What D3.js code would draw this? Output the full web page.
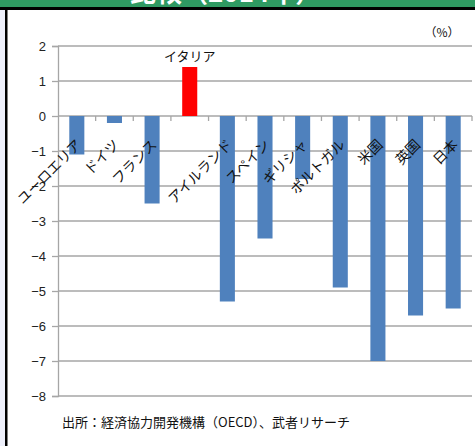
<!DOCTYPE html>
<html lang="ja">
<head>
<meta charset="UTF-8">
<title>比較</title>
<script src="https://d3js.org/d3.v7.min.js"></script>
<style>
  html, body { margin: 0; padding: 0; background: #fff; overflow: hidden; }
  svg { display: block; }
  text { font-family: "Noto Sans CJK JP", "Noto Sans", sans-serif; }
</style>
</head>
<body>
<svg width="475" height="446"></svg>
<script>
const countries = ["ユーロエリア", "ドイツ", "フランス", "イタリア", "アイルランド", "スペイン",
                   "ギリシャ", "ポルトガル", "米国", "英国", "日本"];
const values = [-1.1, -0.2, -2.5, 1.4, -5.3, -3.5, -1.8, -4.9, -7.0, -5.7, -5.5];
const yTicks = [2, 1, 0, -1, -2, -3, -4, -5, -6, -7, -8];
const highlight = "イタリア";

const svg = d3.select("svg");
const W = 475, H = 446;
const plotL = 58, plotR = 472, plotT = 46, plotB = 396;

svg.append("rect").attr("width", W).attr("height", H).attr("fill", "#fff");

// frame from the page the chart was cut out of (title mostly cut off)
svg.append("rect").attr("x", 0).attr("y", 0).attr("width", W).attr("height", 8).attr("fill", "#2f9a62");
svg.append("text").attr("x", 130).attr("y", 2)
  .attr("fill", "#fff").attr("font-size", 26).attr("font-weight", "bold")
  .text("比較（2014年）");
svg.append("rect").attr("x", 0).attr("y", 7).attr("width", W).attr("height", 3).attr("fill", "#000");
svg.append("rect").attr("x", 0).attr("y", 10).attr("width", 5).attr("height", H).attr("fill", "#eef0fb");
svg.append("rect").attr("x", 5).attr("y", 7).attr("width", 2.5).attr("height", H).attr("fill", "#000");

const x = d3.scaleBand().domain(countries).range([plotL, plotR]).paddingInner(0.6).paddingOuter(0.3);
const y = d3.scaleLinear().domain([-8, 2]).range([plotB, plotT]);

// gridlines
svg.append("g")
  .selectAll("line")
  .data(yTicks)
  .join("line")
  .attr("x1", plotL).attr("x2", plotR)
  .attr("y1", d => y(d)).attr("y2", d => y(d))
  .attr("stroke", "#a6a6a6").attr("stroke-width", 1.3);

// y axis
const yAxis = svg.append("g")
  .attr("transform", `translate(${plotL},0)`)
  .call(d3.axisLeft(y).tickValues(yTicks).tickSize(6).tickPadding(6).tickFormat(d3.format("d")));
yAxis.select(".domain").attr("stroke", "#a6a6a6").attr("stroke-width", 1.3);
yAxis.selectAll(".tick line").attr("stroke", "#a6a6a6").attr("stroke-width", 1.3);
yAxis.selectAll(".tick text")
  .attr("font-size", 13).attr("fill", "#222")
  .style("font-family", "Arial, 'Liberation Sans', sans-serif");

// category ticks on the zero line
svg.append("g")
  .selectAll("line")
  .data(d3.range(1, countries.length + 1))
  .join("line")
  .attr("x1", i => plotL + i * (plotR - plotL) / countries.length)
  .attr("x2", i => plotL + i * (plotR - plotL) / countries.length)
  .attr("y1", y(0)).attr("y2", y(0) + 5)
  .attr("stroke", "#a6a6a6").attr("stroke-width", 1.3);

// bars
svg.append("g")
  .selectAll("rect")
  .data(countries)
  .join("rect")
  .attr("x", d => x(d))
  .attr("width", x.bandwidth())
  .attr("y", (d, i) => y(Math.max(0, values[i])))
  .attr("height", (d, i) => Math.abs(y(values[i]) - y(0)))
  .attr("fill", d => d === highlight ? "#ff0000" : "#4f81bd");

// rotated category labels (not the highlighted one)
svg.append("g")
  .selectAll("text")
  .data(countries.filter(d => d !== highlight))
  .join("text")
  .attr("transform", d => `translate(${x(d) + x.bandwidth() / 2 + 3},${y(0) + 27}) rotate(-45)`)
  .attr("text-anchor", "end")
  .attr("dominant-baseline", "middle")
  .attr("font-size", 14)
  .attr("fill", "#111")
  .text(d => d);

// highlighted label above its bar
svg.append("text")
  .attr("x", x(highlight) + x.bandwidth() / 2)
  .attr("y", y(values[countries.indexOf(highlight)]) - 6)
  .attr("text-anchor", "middle")
  .attr("font-size", 13)
  .attr("fill", "#111")
  .text(highlight);

// unit
svg.append("text")
  .attr("x", 442).attr("y", 37)
  .attr("text-anchor", "middle")
  .attr("font-size", 12)
  .attr("fill", "#111")
  .text("（%）");

// source
svg.append("text")
  .attr("x", 62).attr("y", 427)
  .attr("font-size", 13)
  .attr("fill", "#111")
  .text("出所：経済協力開発機構（OECD）、武者リサーチ");
</script>
</body>
</html>
